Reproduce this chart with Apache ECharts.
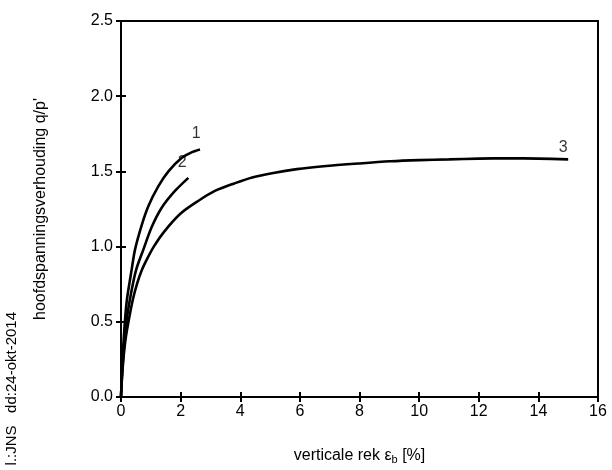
<!DOCTYPE html>
<html>
<head>
<meta charset="utf-8">
<script src="https://cdn.jsdelivr.net/npm/echarts@6/dist/echarts.min.js"></script>
<style>
  html, body { margin: 0; padding: 0; background: #fff; }
  #chart { width: 612px; height: 470px; }
</style>
</head>
<body>
<div id="chart"></div>
<script>
// curve 1
const x1 = [0, 0.04, 0.08, 0.13, 0.2, 0.36, 0.47, 0.69, 0.92, 1.25, 1.59, 2.04, 2.35, 2.65];
const y1 = [0, 0.2, 0.35, 0.5, 0.65, 0.85, 0.98, 1.14, 1.27, 1.4, 1.5, 1.59, 1.625, 1.645];
// curve 2
const x2 = [0, 0.05, 0.11, 0.18, 0.3, 0.5, 0.75, 1.03, 1.37, 1.81, 2.26];
const y2 = [0, 0.2, 0.35, 0.5, 0.65, 0.84, 0.98, 1.13, 1.26, 1.37, 1.457];
// curve 3
const x3 = [0, 0.03, 0.08, 0.15, 0.25, 0.4, 0.55, 0.69, 0.88, 1.1, 1.45, 2.0, 2.6, 3.15, 3.8, 4.4, 5.11, 5.9, 6.79, 8, 9.03, 10, 11, 12, 13, 14, 15];
const y3 = [0, 0.12, 0.25, 0.38, 0.5, 0.65, 0.76, 0.84, 0.92, 1.0, 1.1, 1.22, 1.305, 1.37, 1.42, 1.46, 1.49, 1.515, 1.534, 1.553, 1.567, 1.575, 1.58, 1.585, 1.587, 1.585, 1.58];
// curve labels
const curveNames = ["1", "2", "3"];
const curveLabelX = [2.52, 2.05, 14.83];
const curveLabelY = [1.75, 1.56, 1.655];

const xTicks = [0, 2, 4, 6, 8, 10, 12, 14, 16];
const yTicks = [0.0, 0.5, 1.0, 1.5, 2.0, 2.5];

const zip = (xs, ys) => xs.map((x, i) => [x, ys[i]]);

const font = "Liberation Sans, Arial, sans-serif";
const chart = echarts.init(document.getElementById("chart"));

const lineSeries = (data) => ({
  type: "line",
  data: data,
  smooth: 0.3,
  showSymbol: false,
  symbol: "none",
  lineStyle: { color: "#000", width: 2.6 },
  xAxisIndex: 0,
  yAxisIndex: 0,
});

const baseX = {
  type: "value",
  min: 0,
  max: 16,
  interval: 2,
  splitLine: { show: false },
};
const baseY = {
  type: "value",
  min: 0,
  max: 2.5,
  interval: 0.5,
  splitLine: { show: false },
};

const option = {
  backgroundColor: "#fff",
  animation: false,
  grid: {
    left: 121,
    right: 14,
    top: 21,
    bottom: 72,
    show: true,
    borderColor: "#000",
    borderWidth: 2,
  },
  xAxis: [
    // ticks crossing the axis line (shifted 5px inside the plot)
    Object.assign({}, baseX, {
      position: "bottom",
      offset: -5,
      axisLine: { show: false, onZero: false },
      axisTick: { show: true, length: 10, lineStyle: { color: "#000", width: 2 } },
      axisLabel: {
        color: "#000",
        fontSize: 16,
        fontFamily: font,
        margin: 12,
        formatter: (v) => (xTicks.indexOf(v) >= 0 ? String(v) : ""),
      },
      name: "{a|verticale rek ε}{s|b}{a| [%]}",
      nameLocation: "middle",
      nameGap: 54,
      nameTextStyle: {
        rich: {
          a: { fontSize: 16, fontFamily: font, color: "#000" },
          s: { fontSize: 11, fontFamily: font, color: "#000", verticalAlign: "bottom", padding: [8, 0, 0, 0] },
        },
      },
    }),
    Object.assign({}, baseX, {
      position: "bottom",
      axisLine: { show: true, onZero: false, lineStyle: { color: "#000", width: 2 } },
      axisTick: { show: false },
      axisLabel: { show: false },
    }),
  ],
  yAxis: [
    Object.assign({}, baseY, {
      position: "left",
      offset: -5,
      axisLine: { show: false, onZero: false },
      axisTick: { show: true, length: 10, lineStyle: { color: "#000", width: 2 } },
      axisLabel: {
        color: "#000",
        fontSize: 16,
        fontFamily: font,
        margin: 13,
        formatter: (v) => v.toFixed(1),
      },
      name: "hoofdspanningsverhouding q/p'",
      nameLocation: "middle",
      nameGap: 77,
      nameRotate: 90,
      nameTextStyle: { fontSize: 16, fontFamily: font, color: "#000" },
    }),
    Object.assign({}, baseY, {
      position: "left",
      axisLine: { show: true, onZero: false, lineStyle: { color: "#000", width: 2 } },
      axisTick: { show: false },
      axisLabel: { show: false },
    }),
  ],
  graphic: [
    {
      type: "text",
      x: 12,
      y: 312,
      rotation: Math.PI / 2,
      style: {
        text: "l.:JNS   dd:24-okt-2014",
        fontSize: 15,
        fontFamily: font,
        fill: "#000",
        align: "right",
        verticalAlign: "middle",
      },
    },
  ],
  series: [
    lineSeries(zip(x1, y1)),
    lineSeries(zip(x2, y2)),
    lineSeries(zip(x3, y3)),
    {
      type: "scatter",
      symbolSize: 0,
      data: curveNames.map((n, i) => ({ value: [curveLabelX[i], curveLabelY[i]], name: n })),
      label: {
        show: true,
        position: "inside",
        formatter: (p) => p.name,
        fontSize: 16,
        fontFamily: font,
        color: "#000",
      },
      silent: true,
    },
  ],
};

chart.setOption(option);
</script>
</body>
</html>
